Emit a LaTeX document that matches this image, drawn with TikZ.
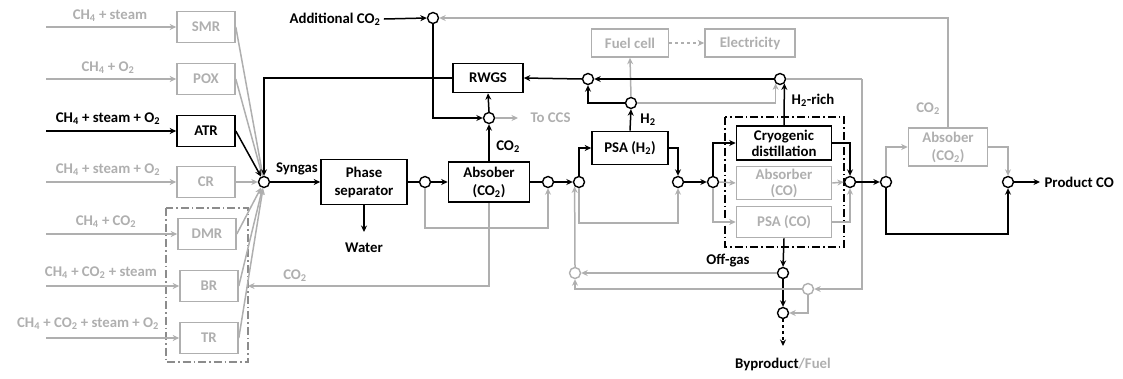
\documentclass[tikz,border=0pt]{standalone}
\usepackage{fontspec}
\setmainfont{Carlito}
\usetikzlibrary{arrows.meta}
\definecolor{lg}{HTML}{AFAFAF}
\definecolor{dg}{HTML}{8C8C8C}
\newcommand{\sbs}[1]{\textsubscript{#1}}
\begin{document}
\begin{tikzpicture}[x=1pt,y=-1pt,
 every node/.style={font=\fontsize{14.8}{18}\selectfont\bfseries},
 box/.style={draw, line width=1.6pt, align=center, inner sep=0pt},
 gbox/.style={box, draw=lg, text=lg},
 rbox/.style={minimum width=58pt, minimum height=31pt},
 mix/.style={circle, draw, line width=1.4pt, fill=white, minimum size=11pt, inner sep=0pt},
 gmix/.style={mix, draw=lg},
 ln/.style={line width=1.5pt},
 gln/.style={ln, draw=lg},
 arr/.style={ln, -{Stealth[length=6.5pt,width=6pt]}},
 garr/.style={arr, draw=lg},
 ddot/.style={line width=1.4pt, dash pattern=on 8pt off 3pt on 1.5pt off 3pt}]
\useasboundingbox (0,0) rectangle (1123,378);

% ---------- reactors ----------
\node[gbox,rbox] (SMR) at (206,27) {SMR};
\node[gbox,rbox] (POX) at (206,79) {POX};
\node[box,rbox]  (ATR) at (206,131) {ATR};
\node[gbox,rbox] (CR)  at (206,182) {CR};
\node[gbox,rbox] (DMR) at (207,234) {DMR};
\node[gbox,rbox] (BR)  at (209,286) {BR};
\node[gbox,rbox] (TR)  at (209,338) {TR};
\draw[ddot, dg] (166,208) rectangle (248,362);

\coordinate (iSMR) at (46,27);
\coordinate (iPOX) at (46,79);
\coordinate (iATR) at (46,131);
\coordinate (iCR)  at (46,182);
\coordinate (iDMR) at (46,234);
\coordinate (iBR)  at (46,286);
\coordinate (iTR)  at (46,338);
\draw[garr] (iSMR) -- (SMR);
\draw[garr] (iPOX) -- (POX);
\draw[arr]  (iATR) -- (ATR);
\draw[garr] (iCR) -- (CR);
\draw[garr] (iDMR) -- (DMR);
\draw[garr] (iBR) -- (BR);
\draw[garr] (iTR) -- (TR);
\node[text=lg] (lSMR) at (110,16) {CH\sbs{4} + steam};
\node[text=lg] (lPOX) at (108,68) {CH\sbs{4} + O\sbs{2}};
\node (lATR) at (108,119) {CH\sbs{4} + steam + O\sbs{2}};
\node[text=lg] (lCR) at (108,170) {CH\sbs{4} + steam + O\sbs{2}};
\node[text=lg] (lDMR) at (106,222) {CH\sbs{4} + CO\sbs{2}};
\node[text=lg] (lBR) at (101,273) {CH\sbs{4} + CO\sbs{2} + steam};
\node[text=lg] (lTR) at (88,324) {CH\sbs{4} + CO\sbs{2} + steam + O\sbs{2}};

% ---------- syngas mixer ----------
\node[mix] (M0) at (264,182) {};
\draw[garr] (SMR.east) -- (M0);
\draw[garr] (POX.east) -- (M0);
\draw[garr] (CR.east) -- (M0);
\draw[garr] (DMR.east) -- (M0);
\draw[garr] (BR.east) -- (M0);
\draw[garr] (TR.east) -- (M0);
\draw[arr]  (ATR.east) -- (M0);
\node (lSyn) at (297,169) {Syngas};

% ---------- main nodes ----------
\node[box, minimum width=86pt, minimum height=45pt] (PS) at (364,182) {Phase\\separator};
\node[mix] (C1) at (425,182) {};
\node[box, minimum width=81pt, minimum height=40pt] (A1) at (489,182) {Absober\\(CO\sbs{2})};
\node[mix] (C2) at (548,182) {};
\node[mix] (C3) at (489,118) {};
\node[box, minimum width=70pt, minimum height=29pt] (RWGS) at (488,78) {RWGS};
\node[mix] (Cadd) at (433,18) {};
\node (lAdd) at (335,19) {Additional CO\sbs{2}};
\coordinate (ccs) at (518,118);
\node[text=lg, anchor=west] (lCCS) at (527,118) {To CCS};
\node (lCO2a) at (508,147) {CO\sbs{2}};
\coordinate (water) at (364,232);
\node (lWater) at (364,248) {Water};
\coordinate (co2in) at (248,286);
\node[text=lg] (lCO2b) at (295,276) {CO\sbs{2}};

\node[mix] (C4) at (579,182) {};
\node[box, minimum width=76pt, minimum height=33pt] (PSA) at (630,148) {PSA (H\sbs{2})};
\node[mix] (C5) at (678,182) {};
\node[mix] (C6) at (713,182) {};
\node[mix] (CH2) at (631,103) {};
\node (lH2) at (648,120) {H\sbs{2}};
\node[mix] (CR1) at (588,79) {};
\node[mix] (CR2) at (780,79) {};
\node[gbox, minimum width=77pt, minimum height=28pt] (FC) at (630,43) {Fuel cell};
\node[gbox, minimum width=90pt, minimum height=28pt] (EL) at (750,43) {Electricity};

\node[box, minimum width=95pt, minimum height=34pt] (CRY) at (784,143) {Cryogenic\\[-2pt]distillation};
\node[gbox, minimum width=95pt, minimum height=33pt] (ACO) at (784,183) {Absorber\\[-2pt](CO)};
\node[gbox, minimum width=95pt, minimum height=31pt] (PCO) at (784,222) {PSA (CO)};
\draw[ddot] (725,117) rectangle (844,247);
\node (lH2r) at (813,100) {H\sbs{2}-rich};

\node[mix] (C7) at (850,182) {};
\node[mix] (C8) at (886,182) {};
\node[gbox, minimum width=79pt, minimum height=38pt] (A2) at (948,147) {Absober\\(CO\sbs{2})};
\node[text=lg] (lCO2c) at (928,109) {CO\sbs{2}};
\node[mix] (C9) at (1008,182) {};
\coordinate (prod) at (1040,182);
\node[anchor=west] (lProd) at (1041,182) {Product CO};

\node[mix] (CO1) at (783,273) {};
\node (lOff) at (728,261) {Off-gas};
\node[mix] (CO2) at (783,313) {};
\coordinate (byp) at (783,346);
\node (lByp) at (783,364) {Byproduct\textcolor{lg}{/Fuel}};
\node[gmix] (G1) at (808,289) {};
\node[gmix] (G2) at (575,273) {};
\coordinate (rt) at (862,79);

% ---------- connectors ----------
\draw[arr] (RWGS.west) -| (M0.north);
\draw[arr] (M0) -- (PS);
\draw[arr] (PS.south) -- (water);
\draw[ln] (PS.east) -- (C1);
\draw[arr] (C1) -- (A1);
\draw[ln] (A1.east) -- (C2);
\draw[garr] (C1.south) -- ++(0,40) -| (C2.south);
\draw[garr] (A1.south) |- (co2in);
\draw[arr] (A1.north) -- (C3.south);
\draw[arr] (C3.north) -- (RWGS.south);
\draw[garr] (C3.east) -- (ccs);
\draw[arr] (lAdd.east) -- (Cadd.west);
\draw[arr] (Cadd.south) |- (C3.west);
\draw[garr] (A2.north) |- (Cadd.east);

\draw[arr] (C2) -- (C4);
\draw[arr] (C4.north) |- (PSA.west);
\draw[arr] (PSA.east) -| (C5.north);
\draw[garr] (C4.south) -- ++(0,35) -| (C5.south);
\draw[arr] (C5) -- (C6);
\draw[arr] (PSA.north) -- (CH2.south);
\draw[arr] (CH2.west) -| (CR1.south);
\draw[garr] (CH2.north) -- (FC.south);
\draw[garr] (CH2.east) -| (CR2.south west);
\draw[arr] (CR2.west) -- (CR1.east);
\draw[arr] (CR1.west) -- (RWGS.east);
\draw[garr, dashed] (FC.east) -- (EL.west);
\draw[arr] (CRY.north) -- (CR2.south east);
\draw[gln] (CR2.east) -- (rt);
\draw[garr] (rt) |- (G1.east);

\draw[arr] (C6.north) |- (CRY.west);
\draw[garr] (C6.east) -- (ACO.west);
\draw[garr] (C6.south) |- (PCO.west);
\draw[arr] (CRY.east) -| (C7.north);
\draw[garr] (ACO.east) -- (C7.west);
\draw[garr] (PCO.east) -| (C7.south);
\draw[arr] (C7) -- (C8);
\draw[garr] (C8.north) |- (A2.west);
\draw[garr] (A2.east) -| (C9.north);
\draw[arr] (C8.south) -- ++(0,46) -| (C9.south);
\draw[arr] (C9.east) -- (prod);

\draw[arr] (PCO.south) -- (CO1.north);
\draw[garr] (CO1.west) -- (G2.east);
\draw[arr] (CO1.south) -- (CO2.north);
\draw[arr, dashed] (CO2.south) -- (byp);
\draw[garr] (G1.west) -| (G2.south);
\draw[garr] (G1.south) |- (CO2.east);
\draw[garr] (G2.north) -- (C4.south west);
\end{tikzpicture}
\end{document}
